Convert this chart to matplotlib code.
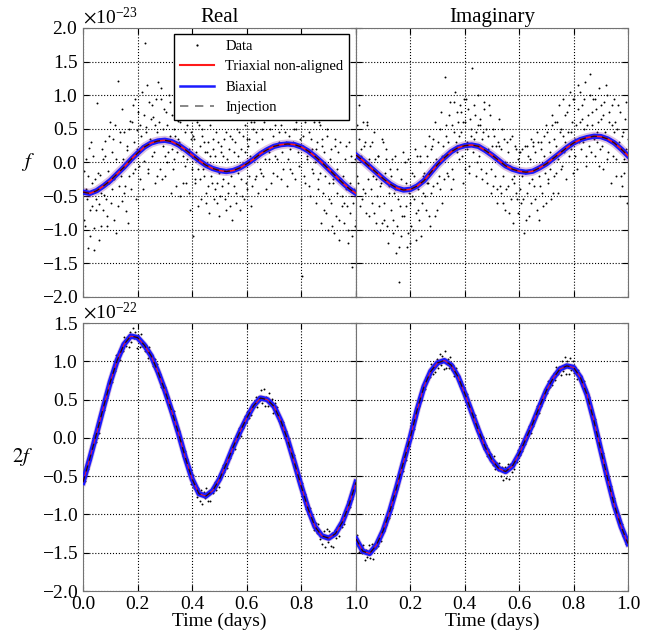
import matplotlib

matplotlib.use("Agg")
import matplotlib.pyplot as plt
from matplotlib.lines import Line2D
from matplotlib.ticker import ScalarFormatter

plt.rcParams["font.family"] = ["Liberation Serif", "DejaVu Serif"]
plt.rcParams["mathtext.fontset"] = "stix"
plt.rcParams["font.size"] = 14
plt.rcParams["xtick.labelsize"] = 14
plt.rcParams["ytick.labelsize"] = 14

# model curves, read every 0.025 days (units: 1e-23 for f, 1e-22 for 2f)
CURVE_T = [0.000, 0.025, 0.050, 0.075, 0.100, 0.125, 0.150, 0.175, 0.200, 0.225,
           0.250, 0.275, 0.300, 0.325, 0.350, 0.375, 0.400, 0.425, 0.450, 0.475,
           0.500, 0.525, 0.550, 0.575, 0.600, 0.625, 0.650, 0.675, 0.700, 0.725,
           0.750, 0.775, 0.800, 0.825, 0.850, 0.875, 0.900, 0.925, 0.950, 0.975,
           1.000]
F_REAL = [-0.44, -0.46, -0.42, -0.35, -0.27, -0.17, -0.07, 0.04, 0.14, 0.23,
          0.29, 0.32, 0.33, 0.31, 0.26, 0.19, 0.11, 0.03, -0.04, -0.09,
          -0.12, -0.135, -0.12, -0.08, -0.02, 0.05, 0.13, 0.19, 0.24, 0.265,
          0.275, 0.265, 0.23, 0.17, 0.09, 0.0, -0.10, -0.20, -0.30, -0.39,
          -0.46]
F_IMAG = [0.11, 0.03, -0.06, -0.15, -0.24, -0.32, -0.38, -0.41, -0.40, -0.35,
          -0.27, -0.15, -0.03, 0.07, 0.16, 0.22, 0.25, 0.26, 0.24, 0.18,
          0.11, 0.03, -0.05, -0.10, -0.13, -0.145, -0.13, -0.08, -0.02, 0.06,
          0.14, 0.22, 0.29, 0.34, 0.37, 0.39, 0.385, 0.35, 0.29, 0.20,
          0.10]
F2_REAL = [-0.58, -0.27, 0.06, 0.40, 0.73, 1.01, 1.22, 1.33, 1.31, 1.21,
           1.07, 0.86, 0.62, 0.35, 0.06, -0.26, -0.54, -0.73, -0.76, -0.69,
           -0.54, -0.34, -0.12, 0.08, 0.26, 0.42, 0.52, 0.50, 0.41, 0.22,
           -0.03, -0.33, -0.64, -0.93, -1.16, -1.28, -1.31, -1.25, -1.10, -0.87,
           -0.58]
F2_IMAG = [-1.32, -1.48, -1.51, -1.40, -1.21, -0.95, -0.64, -0.31, 0.01, 0.37,
           0.67, 0.87, 0.98, 1.01, 0.95, 0.80, 0.58, 0.34, 0.10, -0.12,
           -0.29, -0.40, -0.44, -0.37, -0.21, -0.01, 0.19, 0.41, 0.62, 0.78,
           0.90, 0.94, 0.92, 0.79, 0.56, 0.22, -0.16, -0.53, -0.88, -1.16,
           -1.38]

# data samples (a thinned set of the dots)
DATA_T = [0.002, 0.007, 0.012, 0.017, 0.022, 0.027, 0.032, 0.037, 0.042, 0.047,
          0.052, 0.057, 0.062, 0.067, 0.072, 0.077, 0.082, 0.087, 0.092, 0.097,
          0.102, 0.107, 0.112, 0.117, 0.122, 0.127, 0.132, 0.137, 0.142, 0.147,
          0.152, 0.157, 0.162, 0.167, 0.172, 0.177, 0.182, 0.187, 0.192, 0.197,
          0.202, 0.207, 0.212, 0.217, 0.222, 0.227, 0.232, 0.237, 0.242, 0.247,
          0.252, 0.257, 0.262, 0.267, 0.272, 0.277, 0.282, 0.287, 0.292, 0.297,
          0.302, 0.307, 0.312, 0.317, 0.322, 0.327, 0.332, 0.337, 0.342, 0.347,
          0.352, 0.357, 0.362, 0.367, 0.372, 0.377, 0.382, 0.387, 0.392, 0.397,
          0.402, 0.407, 0.412, 0.417, 0.422, 0.427, 0.432, 0.437, 0.442, 0.447,
          0.452, 0.457, 0.462, 0.467, 0.472, 0.477, 0.482, 0.487, 0.492, 0.497,
          0.502, 0.507, 0.512, 0.517, 0.522, 0.527, 0.532, 0.537, 0.542, 0.547,
          0.552, 0.557, 0.562, 0.567, 0.572, 0.577, 0.582, 0.587, 0.592, 0.597,
          0.602, 0.607, 0.612, 0.617, 0.622, 0.627, 0.632, 0.637, 0.642, 0.647,
          0.652, 0.657, 0.662, 0.667, 0.672, 0.677, 0.682, 0.687, 0.692, 0.697,
          0.702, 0.707, 0.712, 0.717, 0.722, 0.727, 0.732, 0.737, 0.742, 0.747,
          0.752, 0.757, 0.762, 0.767, 0.772, 0.777, 0.782, 0.787, 0.792, 0.797,
          0.802, 0.807, 0.812, 0.817, 0.822, 0.827, 0.832, 0.837, 0.842, 0.847,
          0.852, 0.857, 0.862, 0.867, 0.872, 0.877, 0.882, 0.887, 0.892, 0.897,
          0.902, 0.907, 0.912, 0.917, 0.922, 0.927, 0.932, 0.937, 0.942, 0.947,
          0.952, 0.957, 0.962, 0.967, 0.972, 0.977, 0.982, 0.987, 0.992, 0.997]
DATA_F_REAL = [-0.12, -0.95, -0.40, -1.27, 0.21, -0.71, -0.30, 0.10, -1.30, -0.55,
               0.88, -0.62, -0.18, -0.95, 0.05, -0.48, 0.32, -0.80, -0.12, 0.40,
               -0.60, 0.15, -0.25, 0.55, -1.05, 1.21, -0.35, 0.30, -0.58, 0.05,
               0.45, -0.72, 0.18, -0.20, 0.62, -0.40, 0.85, 0.30, -0.10, 0.48,
               0.75, -0.25, 0.40, 1.05, 0.02, 1.78, 0.52, -0.15, 0.90, 0.35,
               0.10, 0.68, -0.30, 0.95, 0.45, 0.60, -0.10, 1.10, 0.25, 0.80,
               -0.20, 0.55, 0.15, 0.90, -0.45, 0.70, 0.05, 0.40, -0.35, 0.62,
               0.30, -0.50, 0.85, 0.10, -0.05, -0.30, 0.55, 0.20, -0.70, 0.45,
               -1.09, 0.35, -0.25, 0.60, -0.10, 0.25, -0.55, 0.40, -0.20, 0.15,
               -0.45, 0.30, -0.75, 0.10, -0.30, 0.20, -0.40, 0.45, -0.60, -0.15,
               -0.50, 0.15, -0.25, 0.35, -0.70, 0.05, -0.45, 0.40, -0.20, -0.85,
               -0.35, 0.30, -0.60, 0.10, 0.45, 0.20, -0.50, -0.05, 0.55, -0.30,
               -0.40, 0.35, 0.10, -0.65, 0.50, 0.60, -0.20, 0.30, -0.45, 0.75,
               -0.15, 0.50, 0.85, 0.05, -0.40, 0.65, 0.15, -0.30, 0.90, 0.40,
               0.10, 0.70, -0.20, 0.45, 0.95, 0.55, -0.10, 0.80, 0.30, -0.35,
               0.75, 0.20, 1.00, -0.15, 0.50, -0.25, 0.60, 0.15, 0.85, -0.55,
               -1.69, 0.40, -0.30, 0.70, 0.05, 0.45, -0.50, 0.20, -0.15, 0.60,
               -0.60, 0.30, -0.25, 0.55, -0.90, 0.25, -0.70, -0.20, 0.40, -1.00,
               -0.55, 0.20, -0.95, -0.30, 0.35, -0.80, -0.10, -1.15, 0.30, -0.50,
               -0.20, -0.90, 0.25, -0.65, -1.20, -0.75, 0.10, -1.56, -0.40, -0.95]
DATA_F_IMAG = [0.55, -0.30, 0.85, 0.20, -0.55, -0.40, 0.30, -0.75, 0.60, 0.05,
               0.25, -0.60, -0.20, 0.45, -0.90, -0.50, 0.10, -1.00, -0.30, 0.35,
               -0.85, -0.15, 0.20, -1.20, -0.45, -0.70, 0.05, -1.05, -0.40, -1.35,
               -0.10, -1.77, -0.65, -1.10, 0.15, -0.80, -0.30, -1.25, 0.05, -0.60,
               -0.95, -0.15, -0.55, 0.20, -1.15, -0.40, -0.85, 0.10, -0.60, -0.20,
               0.25, -0.70, -0.30, 0.40, -0.95, -0.45, 0.35, -0.10, 0.60, -0.70,
               0.30, -0.40, 0.75, 0.10, -0.25, 1.27, 0.40, -0.20, 0.70, 0.15,
               0.55, -0.25, 0.90, 0.30, 0.75, 0.05, 0.85, 0.45, -0.30, 0.95,
               0.60, 0.20, 0.80, -0.05, 0.50, 1.40, 0.35, 0.70, -0.20, 0.55,
               0.10, 0.65, -0.25, 0.45, 0.80, 0.50, -0.30, 0.20, 0.70, -0.10,
               -0.35, 0.40, 0.05, -0.60, 0.30, 0.25, -0.45, 0.50, -0.20, -0.70,
               -0.40, 0.15, -0.75, 0.35, -0.25, -0.90, -0.30, 0.20, -0.55, 0.05,
               0.15, -0.60, -0.20, -1.05, 0.25, -0.45, 0.10, -0.80, 0.35, -0.25,
               0.25, -0.55, -0.10, 0.45, -0.85, -0.35, 0.30, -0.65, 0.10, 0.55,
               0.45, -0.25, 0.15, -0.55, 0.70, -0.20, 0.60, 0.25, -0.45, 0.85,
               0.50, -0.05, 0.95, 0.30, -0.25, 0.75, 0.10, 1.05, 0.45, -0.15,
               0.95, 0.35, -0.10, 1.15, 0.60, 0.20, 0.85, 0.50, 1.20, -0.05,
               0.70, 0.25, 1.31, 0.55, 0.95, 0.10, 0.80, 0.45, 1.10, 0.20,
               0.65, -0.10, 0.90, 0.35, 1.00, 0.15, 0.75, -0.30, 0.55, 0.95,
               0.60, -0.20, 0.85, 0.30, -0.50, -0.35, 0.45, 0.05, 0.90, -0.60]
DATA_F2_REAL = [-0.52, -0.56, -0.41, -0.40, -0.23, -0.29, -0.12, -0.13, 0.04, -0.06,
                0.12, 0.06, 0.27, 0.28, 0.43, 0.37, 0.51, 0.52, 0.70, 0.67,
                0.80, 0.73, 0.87, 0.87, 1.08, 1.00, 1.14, 1.02, 1.19, 1.14,
                1.32, 1.20, 1.30, 1.19, 1.38, 1.25, 1.44, 1.30, 1.38, 1.18,
                1.35, 1.19, 1.36, 1.20, 1.24, 1.14, 1.21, 1.04, 1.19, 1.07,
                1.08, 0.94, 1.03, 0.92, 0.97, 0.80, 0.84, 0.67, 0.72, 0.60,
                0.67, 0.51, 0.53, 0.35, 0.39, 0.31, 0.35, 0.15, 0.18, 0.03,
                0.09, -0.07, -0.07, -0.24, -0.17, -0.33, -0.27, -0.40, -0.41, -0.60,
                -0.48, -0.65, -0.60, -0.77, -0.66, -0.82, -0.68, -0.86, -0.71, -0.79,
                -0.65, -0.82, -0.71, -0.82, -0.65, -0.72, -0.58, -0.68, -0.56, -0.64,
                -0.47, -0.50, -0.36, -0.45, -0.35, -0.39, -0.24, -0.26, -0.13, -0.20,
                -0.07, -0.14, 0.03, 0.00, 0.13, 0.03, 0.15, 0.13, 0.28, 0.21,
                0.34, 0.26, 0.35, 0.30, 0.44, 0.40, 0.54, 0.40, 0.54, 0.50,
                0.62, 0.45, 0.64, 0.42, 0.54, 0.41, 0.59, 0.43, 0.51, 0.32,
                0.45, 0.32, 0.40, 0.22, 0.26, 0.15, 0.21, 0.08, 0.09, -0.07,
                -0.01, -0.18, -0.14, -0.25, -0.23, -0.42, -0.37, -0.56, -0.52, -0.63,
                -0.59, -0.75, -0.73, -0.93, -0.89, -0.99, -0.91, -1.10, -1.06, -1.20,
                -1.11, -1.24, -1.13, -1.32, -1.24, -1.38, -1.22, -1.42, -1.19, -1.36,
                -1.22, -1.41, -1.24, -1.42, -1.20, -1.31, -1.16, -1.28, -1.12, -1.16,
                -1.04, -1.12, -0.93, -0.97, -0.83, -0.90, -0.76, -0.80, -0.62, -0.64]
DATA_F2_IMAG = [-1.27, -1.41, -1.49, -1.40, -1.51, -1.40, -1.59, -1.46, -1.56, -1.40,
                -1.57, -1.39, -1.58, -1.39, -1.44, -1.34, -1.41, -1.29, -1.35, -1.19,
                -1.22, -1.08, -1.14, -1.01, -1.05, -0.89, -0.91, -0.73, -0.76, -0.63,
                -0.67, -0.52, -0.52, -0.36, -0.43, -0.23, -0.29, -0.14, -0.12, 0.04,
                0.00, 0.16, 0.12, 0.34, 0.31, 0.45, 0.42, 0.55, 0.50, 0.66,
                0.64, 0.80, 0.75, 0.86, 0.79, 0.96, 0.84, 0.95, 0.86, 1.03,
                0.91, 1.09, 0.95, 1.07, 0.90, 1.14, 0.91, 1.03, 0.91, 1.05,
                0.89, 0.95, 0.81, 0.91, 0.79, 0.81, 0.68, 0.74, 0.63, 0.65,
                0.52, 0.57, 0.42, 0.45, 0.31, 0.37, 0.24, 0.30, 0.13, 0.15,
                0.02, 0.08, -0.03, 0.01, -0.14, -0.09, -0.24, -0.15, -0.27, -0.21,
                -0.35, -0.24, -0.41, -0.33, -0.42, -0.33, -0.50, -0.38, -0.55, -0.38,
                -0.53, -0.34, -0.54, -0.34, -0.45, -0.30, -0.41, -0.26, -0.31, -0.16,
                -0.23, -0.09, -0.17, -0.04, -0.08, 0.06, 0.02, 0.16, 0.07, 0.19,
                0.15, 0.29, 0.28, 0.41, 0.33, 0.46, 0.41, 0.56, 0.52, 0.66,
                0.58, 0.74, 0.66, 0.78, 0.69, 0.85, 0.76, 0.92, 0.83, 0.93,
                0.82, 1.01, 0.87, 1.05, 0.83, 1.01, 0.84, 1.04, 0.89, 1.00,
                0.85, 0.93, 0.77, 0.89, 0.78, 0.81, 0.68, 0.74, 0.59, 0.64,
                0.50, 0.53, 0.35, 0.37, 0.20, 0.24, 0.07, 0.10, -0.09, -0.08,
                -0.24, -0.20, -0.37, -0.36, -0.55, -0.52, -0.68, -0.63, -0.80, -0.79,
                -0.96, -0.92, -1.06, -1.01, -1.17, -1.13, -1.28, -1.23, -1.38, -1.29]

# more dots for the f panels (the noise there is much wider)
DATA_T_B = [0.0045, 0.0095, 0.0145, 0.0195, 0.0245, 0.0295, 0.0345, 0.0395, 0.0445, 0.0495,
            0.0545, 0.0595, 0.0645, 0.0695, 0.0745, 0.0795, 0.0845, 0.0895, 0.0945, 0.0995,
            0.1045, 0.1095, 0.1145, 0.1195, 0.1245, 0.1295, 0.1345, 0.1395, 0.1445, 0.1495,
            0.1545, 0.1595, 0.1645, 0.1695, 0.1745, 0.1795, 0.1845, 0.1895, 0.1945, 0.1995,
            0.2045, 0.2095, 0.2145, 0.2195, 0.2245, 0.2295, 0.2345, 0.2395, 0.2445, 0.2495,
            0.2545, 0.2595, 0.2645, 0.2695, 0.2745, 0.2795, 0.2845, 0.2895, 0.2945, 0.2995,
            0.3045, 0.3095, 0.3145, 0.3195, 0.3245, 0.3295, 0.3345, 0.3395, 0.3445, 0.3495,
            0.3545, 0.3595, 0.3645, 0.3695, 0.3745, 0.3795, 0.3845, 0.3895, 0.3945, 0.3995,
            0.4045, 0.4095, 0.4145, 0.4195, 0.4245, 0.4295, 0.4345, 0.4395, 0.4445, 0.4495,
            0.4545, 0.4595, 0.4645, 0.4695, 0.4745, 0.4795, 0.4845, 0.4895, 0.4945, 0.4995,
            0.5045, 0.5095, 0.5145, 0.5195, 0.5245, 0.5295, 0.5345, 0.5395, 0.5445, 0.5495,
            0.5545, 0.5595, 0.5645, 0.5695, 0.5745, 0.5795, 0.5845, 0.5895, 0.5945, 0.5995,
            0.6045, 0.6095, 0.6145, 0.6195, 0.6245, 0.6295, 0.6345, 0.6395, 0.6445, 0.6495,
            0.6545, 0.6595, 0.6645, 0.6695, 0.6745, 0.6795, 0.6845, 0.6895, 0.6945, 0.6995,
            0.7045, 0.7095, 0.7145, 0.7195, 0.7245, 0.7295, 0.7345, 0.7395, 0.7445, 0.7495,
            0.7545, 0.7595, 0.7645, 0.7695, 0.7745, 0.7795, 0.7845, 0.7895, 0.7945, 0.7995,
            0.8045, 0.8095, 0.8145, 0.8195, 0.8245, 0.8295, 0.8345, 0.8395, 0.8445, 0.8495,
            0.8545, 0.8595, 0.8645, 0.8695, 0.8745, 0.8795, 0.8845, 0.8895, 0.8945, 0.8995,
            0.9045, 0.9095, 0.9145, 0.9195, 0.9245, 0.9295, 0.9345, 0.9395, 0.9445, 0.9495,
            0.9545, 0.9595, 0.9645, 0.9695, 0.9745, 0.9795, 0.9845, 0.9895, 0.9945, 0.9995]
DATA_F_REAL_B = [-0.85, 0.05, -0.55, -0.20, -1.10, 0.30, -0.65, -0.98, -0.25, -0.70,
                 -0.15, -1.15, -0.45, 0.20, -0.70, 0.10, -0.55, -0.95, -0.30, 0.60,
                 -0.40, 0.35, -0.85, 0.05, -0.15, -0.65, 0.45, -0.20, 0.80, -0.45,
                 -0.35, 0.25, -0.90, 0.50, 0.05, 0.60, -0.15, 0.95, -0.55, 0.20,
                 -0.05, 0.55, 0.25, -0.40, 0.70, 0.45, 1.15, -0.10, 0.30, 0.65,
                 0.85, 0.15, 0.55, -0.20, 1.20, 0.35, 0.95, -0.25, 0.50, 0.10,
                 0.75, 0.00, 1.00, 0.40, 0.20, -0.10, 0.50, 0.85, 0.15, 0.35,
                 0.60, 0.20, -0.30, 0.75, 0.45, 0.05, 0.70, -0.45, 0.35, -0.10,
                 0.40, -0.30, 0.15, -0.65, 0.55, -0.25, 0.50, -0.10, 0.30, -0.60,
                 0.15, -0.35, 0.55, -0.20, 0.35, -0.55, 0.10, -0.30, 0.30, -0.80,
                 0.25, -0.35, 0.10, -0.55, 0.45, -0.30, 0.20, -0.65, 0.35, -0.10,
                 0.15, -0.45, 0.50, -0.15, -0.70, -0.25, 0.40, -0.55, 0.15, 0.35,
                 0.25, -0.20, 0.60, -0.35, 0.05, -0.25, 0.45, 0.10, 0.85, -0.10,
                 0.35, -0.20, 0.60, 0.20, 0.95, 0.05, 0.50, 0.25, -0.15, 0.70,
                 0.55, 0.05, 0.85, 0.30, -0.25, 0.15, 0.95, 0.45, 0.70, 0.05,
                 0.40, -0.10, 0.65, 0.30, 0.85, 0.50, 0.95, -0.05, 0.35, 0.70,
                 0.25, -0.20, 0.60, 0.10, 0.85, -0.35, 0.35, -0.10, 0.75, 0.00,
                 0.20, -0.40, 0.60, -0.15, 0.35, -0.45, 0.15, -0.75, 0.50, -0.30,
                 0.05, -0.60, -0.25, -1.05, 0.25, -0.45, 0.15, -0.85, -0.25, -0.65,
                 -0.60, 0.05, -0.40, -1.00, 0.30, -0.30, -1.10, -0.60, 0.05, -0.85]
DATA_F_IMAG_B = [-0.20, 0.35, -0.65, 0.10, 0.60, 0.25, -0.45, 0.55, -0.25, -0.80,
                 -0.40, 0.30, -0.75, 0.05, -0.25, 0.10, -0.65, -0.35, -0.90, 0.30,
                 -0.60, 0.05, -0.95, -0.35, -0.10, -0.20, -0.85, -0.45, 0.10, -0.95,
                 -0.55, -1.25, -0.25, -0.80, -0.40, 0.00, -0.65, -1.05, -0.45, -1.20,
                 -0.50, -1.00, -0.20, -0.75, 0.10, -0.70, 0.00, -1.10, -0.45, -0.15,
                 -0.50, 0.10, -0.30, -0.80, 0.20, 0.25, -0.35, -0.80, 0.05, -0.30,
                 -0.20, 0.50, -0.60, 0.25, 0.05, 0.55, -0.15, 0.30, 0.90, -0.40,
                 -0.10, 0.45, 1.05, 0.15, 0.60, 0.40, 0.75, 0.10, 0.60, -0.10,
                 0.95, 0.30, -0.15, 0.65, 0.40, 0.15, 0.85, 0.45, 0.00, 1.00,
                 0.55, -0.10, 0.35, 0.90, 0.20, -0.15, 0.40, 0.85, -0.45, 0.25,
                 0.50, -0.20, 0.25, -0.40, 0.65, -0.35, 0.20, -0.60, 0.35, 0.00,
                 0.30, -0.35, -0.05, -0.55, 0.40, -0.20, 0.25, -0.45, -0.75, 0.15,
                 -0.40, 0.20, -0.55, -0.15, -0.85, 0.25, -0.30, 0.05, -0.60, 0.30,
                 -0.35, 0.15, -0.70, 0.30, -0.20, 0.20, -0.45, 0.40, -0.15, -0.60,
                 -0.30, 0.30, -0.10, 0.55, -0.45, 0.35, -0.15, 0.60, 0.05, 0.45,
                 -0.10, 0.40, 0.15, 0.70, 0.25, 0.45, 0.85, 0.20, 0.60, 0.95,
                 0.10, 0.55, 0.80, 0.30, 1.05, 0.65, 0.30, 0.95, 0.10, 0.55,
                 0.40, 1.00, 0.15, 0.75, 0.35, 0.95, 0.30, 0.60, -0.05, 0.85,
                 0.25, 0.70, 0.45, 1.15, 0.05, 0.60, 0.35, 0.85, 0.10, 0.45,
                 0.05, 0.50, 0.25, 0.75, -0.20, 0.40, -0.15, 0.65, 0.20, 0.35]

X_TICKS = [0.0, 0.2, 0.4, 0.6, 0.8, 1.0]
Y_TICKS_F = [-2.0, -1.5, -1.0, -0.5, 0.0, 0.5, 1.0, 1.5, 2.0]
Y_TICKS_F2 = [-2.0, -1.5, -1.0, -0.5, 0.0, 0.5, 1.0, 1.5]

SCALE_F = 1e-23
SCALE_F2 = 1e-22
PANEL_TITLES = ["Real", "Imaginary"]
BLUE = "#1a1aff"
RED = "#ff1a1a"


def draw_dots(ax, times, values, scale):
    ax.plot(times, [v * scale for v in values], "o", color="k", ms=1.4, mew=0, zorder=1)


def draw_curves(ax, curve_y, scale, halo_lw, red_lw):
    cy = [v * scale for v in curve_y]
    ax.plot(CURVE_T, cy, color=(0.55, 0.2, 0.6), alpha=0.3, lw=halo_lw, zorder=2)
    ax.plot(CURVE_T, cy, color=BLUE, lw=3.8, zorder=3)
    ax.plot(CURVE_T, cy, color=RED, lw=red_lw, zorder=4)
    ax.plot(CURVE_T, cy, color="k", lw=0.9, ls=(0, (5, 4)), alpha=0.8, zorder=5)


def style_axis(ax, yticks, scale):
    ax.set_xlim(0, 1)
    ax.set_ylim(yticks[0] * scale, yticks[-1] * scale)
    ax.set_xticks(X_TICKS)
    ax.set_yticks([v * scale for v in yticks])
    ax.yaxis.set_major_formatter(ScalarFormatter(useMathText=True))
    ax.grid(True, color="k", ls=":", lw=0.8)
    ax.tick_params(direction="in", top=True, right=True, length=4)
    for spine in ax.spines.values():
        spine.set_color("0.45")


fig = plt.figure(figsize=(6.56, 6.37), dpi=100)
ax_tl = fig.add_axes([0.1265, 0.5338, 0.4162, 0.4223])
ax_tr = fig.add_axes([0.5427, 0.5338, 0.4146, 0.4223])
ax_bl = fig.add_axes([0.1265, 0.0722, 0.4162, 0.4207])
ax_br = fig.add_axes([0.5427, 0.0722, 0.4146, 0.4207])

draw_dots(ax_tl, DATA_T, DATA_F_REAL, SCALE_F)
draw_dots(ax_tl, DATA_T_B, DATA_F_REAL_B, SCALE_F)
draw_dots(ax_tr, DATA_T, DATA_F_IMAG, SCALE_F)
draw_dots(ax_tr, DATA_T_B, DATA_F_IMAG_B, SCALE_F)
draw_dots(ax_bl, DATA_T, DATA_F2_REAL, SCALE_F2)
draw_dots(ax_br, DATA_T, DATA_F2_IMAG, SCALE_F2)

draw_curves(ax_tl, F_REAL, SCALE_F, 6.5, 1.1)
draw_curves(ax_tr, F_IMAG, SCALE_F, 6.5, 1.1)
draw_curves(ax_bl, F2_REAL, SCALE_F2, 5.0, 0.6)
draw_curves(ax_br, F2_IMAG, SCALE_F2, 5.0, 0.6)

for ax in (ax_tl, ax_tr):
    style_axis(ax, Y_TICKS_F, SCALE_F)
    ax.tick_params(labelbottom=False)
for ax in (ax_bl, ax_br):
    style_axis(ax, Y_TICKS_F2, SCALE_F2)
    ax.set_xlabel("Time (days)", fontsize=14, labelpad=0)
for ax in (ax_tr, ax_br):
    ax.tick_params(labelleft=False)
    ax.yaxis.get_offset_text().set_visible(False)

# the right panel's 0.0 label would sit on top of the left panel's 1.0
ax_br.set_xticks(X_TICKS[1:])

ax_tl.set_title(PANEL_TITLES[0], fontsize=15, pad=4)
ax_tr.set_title(PANEL_TITLES[1], fontsize=15, pad=4)

ax_tl.set_ylabel("$f$", rotation=0, fontsize=15, va="center", ha="center")
ax_tl.yaxis.set_label_coords(-0.2, 0.5)
ax_bl.set_ylabel("$2f$", rotation=0, fontsize=15, va="center", ha="center")
ax_bl.yaxis.set_label_coords(-0.22, 0.5)

handles = [
    Line2D([], [], ls="none", marker="o", ms=1.6, mew=0, color="k"),
    Line2D([], [], color=RED, lw=1.5),
    Line2D([], [], color=BLUE, lw=1.8),
    Line2D([], [], color="0.45", lw=1.2, ls=(0, (5, 4))),
]
leg = ax_tl.legend(handles, ["Data", "Triaxial non-aligned", "Biaxial", "Injection"],
                   loc="upper right", bbox_to_anchor=(0.975, 0.978), borderaxespad=0,
                   fontsize=10.5, handlelength=2.3, numpoints=1, fancybox=False,
                   framealpha=1, edgecolor="k")
leg.get_frame().set_linewidth(1.0)
leg.set_zorder(10)

fig.savefig("out.png", dpi=100)
